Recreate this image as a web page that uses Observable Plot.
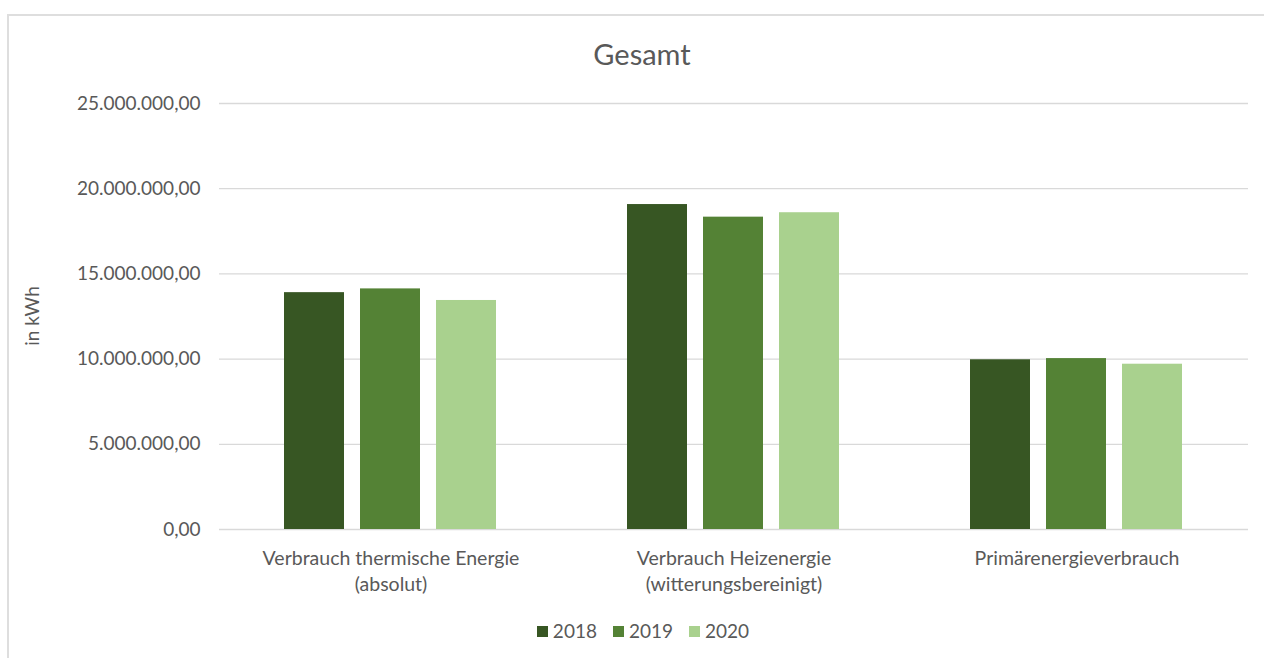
<!DOCTYPE html>
<html>
<head>
<meta charset="utf-8">
<script src="https://cdn.jsdelivr.net/npm/d3@7"></script>
<script src="https://cdn.jsdelivr.net/npm/@observablehq/plot@0.6"></script>
<style>
  html, body { margin: 0; padding: 0; background: #fff; overflow: hidden; }
  body { width: 1264px; height: 658px; position: relative; font-family: Lato, "Open Sans", sans-serif; color: #595959; }
  #frame { position: absolute; left: 7px; top: 14px; width: 1300px; height: 700px; border: 2px solid #dedede; box-sizing: border-box; }
  #title { position: absolute; left: 0; width: 1284px; top: 37px; line-height: 34px; text-align: center; font-size: 29px; color: #595959; }
  #chart { position: absolute; left: 0; top: 80px; }
  #legend { position: absolute; left: 0; width: 1286px; top: 619px; line-height: 24px; display: flex; justify-content: center; gap: 16px; font-size: 19px; color: #595959; }
  .item { display: flex; align-items: center; gap: 5px; }
  .sw { width: 11px; height: 11px; display: inline-block; }
</style>
</head>
<body>
<div id="frame"></div>
<div id="title">Gesamt</div>
<div id="chart"></div>
<div id="legend"></div>
<script>
const categories = ["Verbrauch thermische Energie\n(absolut)", "Verbrauch Heizenergie\n(witterungsbereinigt)", "Primärenergieverbrauch"];
const years = ["2018", "2019", "2020"];
const values2018 = [13900000, 19070000, 9960000];
const values2019 = [14120000, 18330000, 10030000];
const values2020 = [13440000, 18590000, 9700000];
const yTicks = [0, 5000000, 10000000, 15000000, 20000000, 25000000];
const colors = ["#375623", "#548235", "#A9D18E"];

const series = [values2018, values2019, values2020];
const data = categories.flatMap((c, i) => years.map((y, j) => ({category: c, year: y, value: series[j][i]})));

const de = d3.formatLocale({decimal: ",", thousands: ".", grouping: [3], currency: ["", " €"]});
const fmt = de.format(",.2f");

const chart = Plot.plot({
  width: 1264,
  height: 530,
  marginLeft: 218,
  marginRight: 15,
  marginTop: 23,
  marginBottom: 81,
  style: {fontFamily: "Lato, 'Open Sans', sans-serif", fontSize: "19px", color: "#595959", background: "transparent", overflow: "visible"},
  fx: {domain: categories, padding: 0, label: null},
  x: {domain: years, paddingInner: 0.2105, paddingOuter: 0.85, axis: null},
  y: {domain: [0, 25000000], label: null},
  color: {domain: years, range: colors},
  marks: [
    Plot.ruleY(yTicks, {stroke: "#d9d9d9", strokeWidth: 1.3}),
    Plot.barY(data, {fx: "category", x: "year", y: "value", fill: "year"}),
    Plot.axisY({ticks: yTicks, tickFormat: fmt, tickSize: 0, tickPadding: 19, label: null, fill: "#595959", fontSize: 19}),
    Plot.axisFx({anchor: "bottom", tickSize: 0, tickPadding: 17, label: null, lineHeight: 1.34, fill: "#595959", fontSize: 19.5})
  ]
});
document.getElementById("chart").appendChild(chart);

const yl = document.createElement("div");
yl.textContent = "in kWh";
yl.style.cssText = "position:absolute;left:31px;top:316px;transform:translate(-50%,-50%) rotate(-90deg);font-size:19px;color:#595959;white-space:nowrap;";
document.body.appendChild(yl);

const legend = document.getElementById("legend");
years.forEach((y, i) => {
  const it = document.createElement("div");
  it.className = "item";
  it.innerHTML = `<span class="sw" style="background:${colors[i]}"></span><span>${y}</span>`;
  legend.appendChild(it);
});
</script>
</body>
</html>
